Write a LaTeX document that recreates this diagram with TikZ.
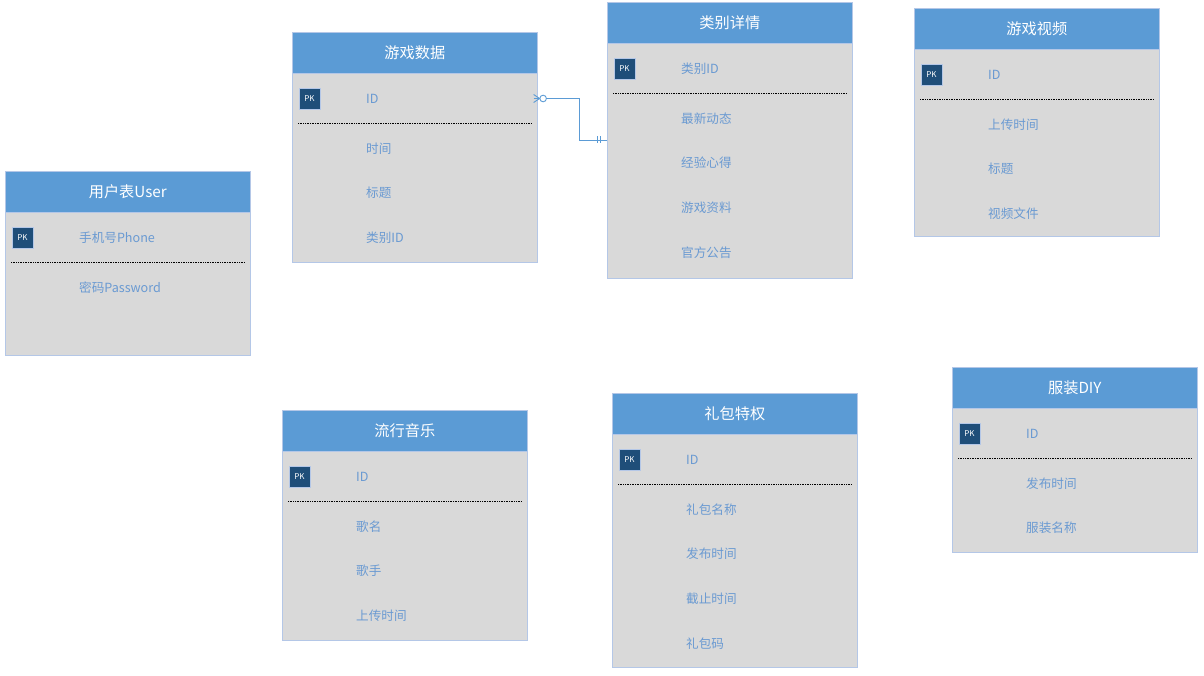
\documentclass[tikz,border=0pt]{standalone}
\usepackage{fontspec}
\setmainfont{Noto Sans CJK SC}
\usetikzlibrary{calc}
\definecolor{hdr}{HTML}{5B9BD5}
\definecolor{bodyc}{HTML}{D9D9D9}
\definecolor{edgec}{HTML}{B4C7E7}
\definecolor{pkc}{HTML}{1F4E79}
\definecolor{txtc}{HTML}{6A9AD2}
\tikzset{
 hdrbox/.style={draw=edgec, fill=hdr, line width=0.6pt, minimum width=245pt, minimum height=41pt, inner sep=0pt, text=white, font=\fontsize{15.2pt}{16pt}\selectfont},
 bodybox/.style={draw=edgec, fill=bodyc, line width=0.6pt, minimum width=245pt, inner sep=0pt, anchor=north west},
 pkbox/.style={fill=pkc, draw=edgec, line width=0.4pt, minimum size=21pt, inner sep=0pt, text=white, font=\fontsize{8pt}{8pt}\selectfont},
 rowtxt/.style={anchor=west, inner sep=0pt, text=txtc, font=\fontsize{12.6pt}{13pt}\selectfont},
 sepline/.style={densely dotted, line width=0.7pt, black},
 conn/.style={draw=hdr, line width=0.9pt},
}
% #1 name, #2 x, #3 top y, #4 bottom y, #5 title, #6 pk field, #7 other rows
\newcommand\ertable[7]{%
 \pgfmathsetmacro\erbh{#4-#3}%
 \node[bodybox, minimum height=\erbh pt] (#1-b) at (#2,#3) {};
 \node[hdrbox, anchor=north west] (#1-h) at (#2,#3) {#5};
 \node[pkbox] (#1-pk) at (#2+17.5,#3+66.5) {PK};
 \node[rowtxt] (#1-id) at (#2+74,#3+66.5) {#6};
 \draw[sepline] (#2+6,#3+91) -- (#2+239,#3+91);
 \foreach \t [count=\k from 0] in {#7} {
   \node[rowtxt] (#1-r\k) at (#2+74,#3+116.5+44.6*\k) {\t};
 }%
}
\begin{document}
\begin{tikzpicture}[x=1pt,y=-1pt]
\useasboundingbox (0,0) rectangle (1204,676);
\fill[white] (0,0) rectangle (1204,676);
\ertable{t1}{5}{171}{355}{用户表User}{手机号Phone}{密码Password}
\ertable{t2}{292}{32}{262}{游戏数据}{ID}{时间,标题,类别ID}
\ertable{t3}{607}{2}{278}{类别详情}{类别ID}{最新动态,经验心得,游戏资料,官方公告}
\ertable{t4}{914}{8}{236}{游戏视频}{ID}{上传时间,标题,视频文件}
\ertable{t5}{282}{410}{640}{流行音乐}{ID}{歌名,歌手,上传时间}
\ertable{t6}{612}{393}{667}{礼包特权}{ID}{礼包名称,发布时间,截止时间,礼包码}
\ertable{t7}{952}{367}{552}{服装DIY}{ID}{发布时间,服装名称}
% relationship
\coordinate (fa) at (t2-b.east |- t2-id);
\coordinate (fb) at (t3-b.west |- 0,140);
\draw[conn] (fa) -- ++(42,0) |- (fb);
\draw[conn] ($(fa)+(-4,-4)$) -- ($(fa)+(2,0)$) -- ($(fa)+(-4,4)$);
\draw[conn] ($(fa)+(-4,0)$) -- (fa);
\draw[conn, fill=white] ($(fa)+(5.5,0)$) circle (3.3pt);
\draw[conn] ($(fb)+(-10,-3.5)$) -- ($(fb)+(-10,3.5)$);
\draw[conn] ($(fb)+(-7,-3.5)$) -- ($(fb)+(-7,3.5)$);
\end{tikzpicture}
\end{document}
